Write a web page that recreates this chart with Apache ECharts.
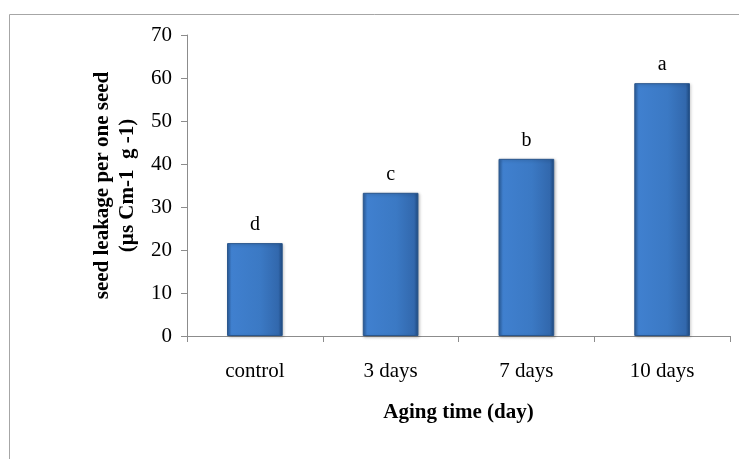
<!DOCTYPE html>
<html><head><meta charset="utf-8">
<script src="https://cdn.jsdelivr.net/npm/echarts@6/dist/echarts.min.js"></script>
<style>html,body{margin:0;padding:0;background:#fff}#c{width:739px;height:459px}</style>
</head><body><div id="c"></div>
<script>
var categories = ['control', '3 days', '7 days', '10 days'];
var leakage = [21.6, 33.3, 41.2, 58.8];
var letters = ['d', 'c', 'b', 'a'];
var yTicks = [0, 10, 20, 30, 40, 50, 60, 70];

var chart = echarts.init(document.getElementById('c'));
var serif = '"Liberation Serif", "DejaVu Serif", serif';
chart.setOption({
  animation: false,
  backgroundColor: '#fff',
  graphic: [{
    type: 'rect', left: 7, top: 12, z: -1,
    shape: { x: 0, y: 0, width: 800, height: 500 },
    style: { fill: 'none', stroke: '#a6a6a6', lineWidth: 1 }
  }],
  grid: { left: 187, right: 9, top: 35, bottom: 123, containLabel: false },
  xAxis: {
    type: 'category', data: categories,
    name: 'Aging time (day)', nameLocation: 'middle', nameGap: 66,
    nameTextStyle: { fontFamily: serif, fontSize: 21, fontWeight: 'bold', color: '#000' },
    axisLine: { lineStyle: { color: '#8c8c8c', width: 1 } },
    axisTick: { show: true, alignWithLabel: false, length: 6, lineStyle: { color: '#8c8c8c' } },
    axisLabel: { fontFamily: serif, fontSize: 21, color: '#000', margin: 25 }
  },
  yAxis: {
    type: 'value', min: yTicks[0], max: yTicks[yTicks.length - 1], interval: 10,
    name: 'seed leakage per one seed\n(µs Cm-1  g -1)', nameLocation: 'middle', nameGap: 47,
    nameRotate: 90,
    nameTextStyle: { fontFamily: serif, fontSize: 21, fontWeight: 'bold', color: '#000', lineHeight: 25 },
    axisLine: { show: true, lineStyle: { color: '#8c8c8c', width: 1 } },
    axisTick: { show: true, length: 6, lineStyle: { color: '#8c8c8c' } },
    axisLabel: { fontFamily: serif, fontSize: 21, color: '#000', margin: 15 },
    splitLine: { show: false }
  },
  series: [{
    type: 'bar', data: leakage, barWidth: '41%',
    itemStyle: {
      color: new echarts.graphic.LinearGradient(0, 0, 1, 0, [
        { offset: 0, color: '#2c5f9f' },
        { offset: 0.08, color: '#4080cf' },
        { offset: 0.6, color: '#3b79c4' },
        { offset: 0.92, color: '#3268ad' },
        { offset: 1, color: '#1f4a80' }
      ]),
      borderColor: '#2a568c', borderWidth: 1,
      shadowColor: 'rgba(0,0,0,0.25)', shadowBlur: 3, shadowOffsetX: 1, shadowOffsetY: 1
    },
    label: {
      show: true, position: 'top', distance: 8,
      formatter: function (p) { return letters[p.dataIndex]; },
      fontFamily: serif, fontSize: 20, color: '#000'
    }
  }]
});
</script></body></html>
